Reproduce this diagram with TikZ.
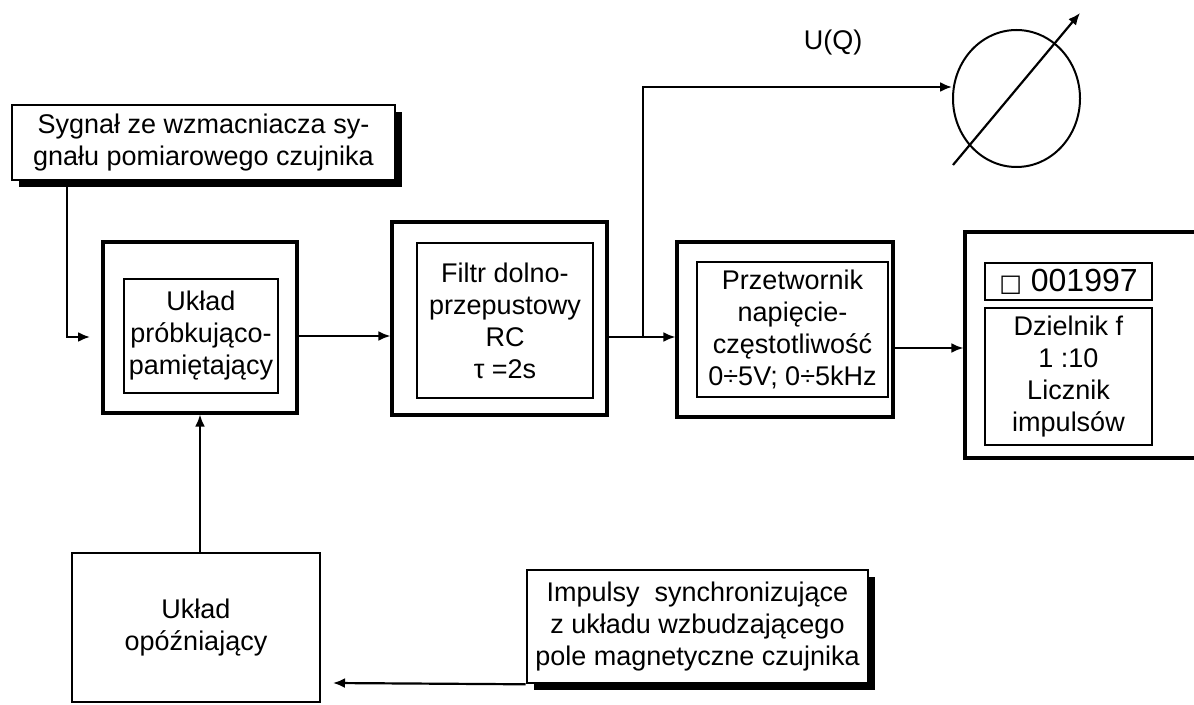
\documentclass[tikz,border=0pt]{standalone}
\usepackage{fontspec}
\setmainfont{Liberation Sans}
\newfontfamily\symbolfont{DejaVu Sans}
\usetikzlibrary{arrows.meta,positioning,shapes.geometric,shadows}

\newcommand\blockfont{\fontsize{13.5}{16}\selectfont}
\newcommand\countfont{\fontsize{16}{18}\selectfont}

\tikzset{
    outerbox/.style={draw, line width=1.6pt, inner sep=0pt},
    innerbox/.style={draw, line width=0.8pt, align=center, font=\blockfont, inner sep=0pt},
    plainbox/.style={draw, line width=0.9pt, align=center, font=\blockfont, inner sep=0pt},
    shadowbox/.style={draw, line width=1.3pt, fill=white, align=center, font=\blockfont, inner sep=0pt,
        drop shadow={shadow xshift=3.5pt, shadow yshift=-3.5pt, fill=black, opacity=1}},
    conn/.style={line width=1.1pt, -{Latex[length=6pt,width=5pt]}},
}

\begin{document}
\begin{tikzpicture}[x=0.5pt, y=-0.5pt]
    \useasboundingbox (0,0) rectangle (1194,705);
    \clip (0,0) rectangle (1194,705);

    % input signal
    \node[shadowbox, minimum width=191.5pt, minimum height=37.5pt] (sig) at (203.5,142.5)
        {Sygnał ze wzmacniacza sy-\\gnału pomiarowego czujnika};

    % main chain
    \node[outerbox, minimum width=97pt, minimum height=85.5pt] (smp) at (200,327.5) {};
    \node[innerbox, minimum width=77pt, minimum height=57pt] (smpin) at (201,336)
        {Układ\\próbkująco-\\pamiętający};

    \node[outerbox, minimum width=107.5pt, minimum height=96.5pt] (flt) at (499.5,318.5) {};
    \node[innerbox, minimum width=88pt, minimum height=77.5pt] (fltin) at (505,320.5)
        {Filtr dolno-\\przepustowy\\RC\\τ =2s};

    \node[outerbox, minimum width=108pt, minimum height=87.5pt] (vfc) at (785,329.5) {};
    \node[innerbox, minimum width=95.5pt, minimum height=67.5pt] (vfcin) at (792.5,329.5)
        {Przetwornik\\napięcie-\\częstotliwość\\0÷5V; 0÷5kHz};

    \node[outerbox, minimum width=125pt, minimum height=113pt] (cnt) at (1090,345) {};
    \node[innerbox, minimum width=83.5pt, minimum height=18.5pt, font=\countfont] (disp) at (1068.5,281.5)
        {{\symbolfont\fontsize{12}{14}\selectfont □} 001997};
    \node[innerbox, minimum width=83.5pt, minimum height=68.5pt] (cntin) at (1068.5,376.5)
        {Dzielnik f\\1 :10\\Licznik\\impulsów};

    % meter
    \node[draw, ellipse, line width=1pt, minimum width=63.5pt, minimum height=68.5pt] (meter) at (1016.5,98.5) {};
    \coordinate (ptr1) at (953,165);
    \coordinate (ptr2) at (1080,13);
    \draw[conn] (ptr1) -- (ptr2);
    \node[font=\blockfont] (uq) at (833,43) {U(Q)};

    % delay and sync
    \node[plainbox, minimum width=124pt, minimum height=74.5pt] (dly) at (196,627.5)
        {Układ\\opóźniający};
    \node[shadowbox, minimum width=170.5pt, minimum height=56.5pt] (sync) at (697.5,626.5)
        {Impulsy\ \ synchronizujące\\z układu wzbudzającego\\pole magnetyczne czujnika};

    % connectors
    \coordinate (in1) at (90,337);
    \coordinate (r2) at (0,337);
    \coordinate (r3) at (0,348);
    \coordinate (split) at (643,337);
    \coordinate (dlyin) at (333,683);
    \draw[conn] (sig.south west) ++(56,0) |- (in1);
    \draw[conn] (smp.east |- smpin) -- (flt.west |- smpin);
    \draw[conn] (flt.east |- r2) -- (vfc.west |- r2);
    \draw[conn] (split) |- ([yshift=5.75pt]meter.west);
    \draw[conn] (vfc.east |- r3) -- (cnt.west |- r3);
    \draw[conn] (dly.north -| smp.south) -- (smp.south);
    \draw[conn] (sync.south west) -- (dlyin);
\end{tikzpicture}
\end{document}
